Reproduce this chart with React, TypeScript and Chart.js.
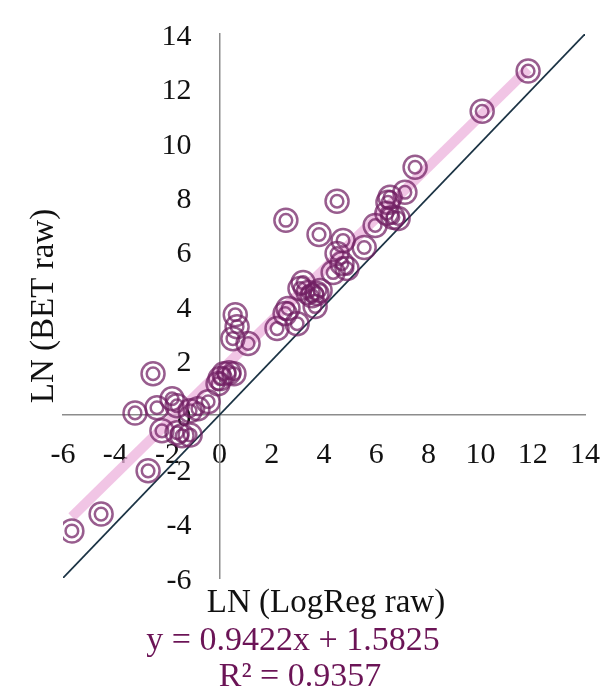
import React, { useEffect, useRef } from 'react';
import { Chart, registerables } from 'chart.js';

Chart.register(...registerables);

// LN (LogReg raw) values
const logRegX = [
  -5.66, -4.54, -2.74, -2.55, -3.24, -2.4, -1.82, -1.63, -2.21, -1.63,
  -1.44, -1.13, -1.13, -0.83, -0.44, -0.06, 0.17, 0.36, 0.55, 0.02,
  0.6, 0.67, 0.51, 1.09, 2.2, 2.62, 2.51, 2.97, 3.2, 3.08,
  3.54, 3.73, 3.66, 3.85, 3.39, 4.35, 4.88, 4.69, 4.5, 4.73,
  3.81, 2.54, 4.5, 5.54, 5.96, 6.41, 6.64, 6.45, 6.53, 6.84,
  7.1, 7.49, 10.06, 11.82,
];
// LN (BET raw) values
const betY = [
  -4.27, -3.65, -2.06, 1.51, 0.07, 0.26, 0.59, 0.33, -0.59, -0.66,
  -0.77, -0.74, 0.15, 0.22, 0.48, 1.14, 1.51, 1.55, 1.51, 1.33,
  3.68, 3.24, 2.8, 2.62, 3.17, 3.91, 3.72, 3.35, 4.86, 4.64,
  4.38, 4.46, 3.98, 4.57, 4.5, 5.23, 5.38, 5.56, 5.93, 6.41,
  6.63, 7.15, 7.85, 6.15, 6.96, 7.41, 7.26, 7.81, 8.0, 7.22,
  8.18, 9.1, 11.16, 12.64,
];

const axisMin = -6;
const axisMax = 14;
const tickStep = 2;
const identityEnds = [-6, 14];
const trendSlope = 0.9422;
const trendIntercept = 1.5825;
const rSquared = 0.9357;
const xTitle = 'LN (LogReg raw)';
const yTitle = 'LN (BET raw)';
const eqText = `y = ${trendSlope}x + ${trendIntercept}`;
const r2Text = `R² = ${rSquared}`;

const SERIF = '"Liberation Serif", "Times New Roman", serif';
const ringColor = 'rgba(112, 30, 98, 0.72)';

// shift the library-drawn tick labels away from the centred axes
const labelShiftPlugin = {
  id: 'labelShift',
  afterLayout(chart: any) {
    const shifts: Record<string, [number, number]> = { x: [0, 22], y: [-28, 0] };
    Object.keys(shifts).forEach((id) => {
      const scale = chart.scales[id];
      if (!scale || scale.__shifted) return;
      const orig = scale.drawLabels.bind(scale);
      scale.drawLabels = (area: any) => {
        const ctx = chart.ctx;
        ctx.save();
        ctx.translate(shifts[id][0], shifts[id][1]);
        orig(area);
        ctx.restore();
      };
      scale.__shifted = true;
    });
  },
};

const textPlugin = {
  id: 'texts',
  afterDraw(chart: any) {
    const ctx = chart.ctx;
    ctx.save();
    ctx.fillStyle = '#111111';
    ctx.font = `33px ${SERIF}`;
    ctx.textAlign = 'center';
    ctx.textBaseline = 'alphabetic';
    ctx.fillText(xTitle, 326, 612);
    ctx.save();
    ctx.translate(53, 306);
    ctx.rotate(-Math.PI / 2);
    ctx.fillText(yTitle, 0, 0);
    ctx.restore();
    ctx.fillStyle = '#6b1456';
    ctx.font = `34px ${SERIF}`;
    ctx.fillText(eqText, 293, 650);
    ctx.fillText(r2Text, 300, 686);
    ctx.restore();
  },
};

export default function App() {
  const ref = useRef<HTMLCanvasElement | null>(null);
  useEffect(() => {
    if (!ref.current) return;
    const points = logRegX.map((x, i) => ({ x, y: betY[i] }));
    const xs = logRegX.slice().sort((a, b) => a - b);
    const tMin = xs[0];
    const tMax = xs[xs.length - 1];
    const trend = [
      { x: tMin, y: trendSlope * tMin + trendIntercept },
      { x: tMax, y: trendSlope * tMax + trendIntercept },
    ];
    const identity = identityEnds.map((v) => ({ x: v, y: v }));
    const tickFont = { family: SERIF, size: 30 };
    const chart = new Chart(ref.current, {
      type: 'scatter',
      data: {
        datasets: [
          {
            data: points,
            pointRadius: 6.3,
            pointBorderWidth: 2.5,
            pointBackgroundColor: 'rgba(0,0,0,0)',
            pointBorderColor: ringColor,
            borderColor: ringColor,
          } as any,
          {
            data: points,
            pointRadius: 11.5,
            pointBorderWidth: 2.5,
            pointBackgroundColor: 'rgba(0,0,0,0)',
            pointBorderColor: ringColor,
            borderColor: ringColor,
          } as any,
          {
            data: trend,
            showLine: true,
            pointRadius: 0,
            borderColor: 'rgba(236, 178, 220, 0.75)',
            borderWidth: 10,
            borderCapStyle: 'butt',
          } as any,
          {
            data: identity,
            showLine: true,
            pointRadius: 0,
            borderColor: '#1b3344',
            borderWidth: 1.75,
          } as any,
        ],
      },
      options: {
        animation: false,
        responsive: false,
        devicePixelRatio: 1,
        layout: { padding: { left: 63, right: 15, top: 34, bottom: 110 } },
        plugins: {
          legend: { display: false },
          tooltip: { enabled: false },
          title: { display: false },
        },
        scales: {
          x: {
            type: 'linear',
            min: axisMin,
            max: axisMax,
            position: { y: 0 } as any,
            grid: { display: false, drawTicks: false },
            border: { display: true, color: '#8c8c8c', width: 1.5 },
            ticks: {
              stepSize: tickStep,
              autoSkip: false,
              maxRotation: 0,
              padding: 0,
              color: '#111111',
              font: tickFont,
            },
          },
          y: {
            type: 'linear',
            min: axisMin,
            max: axisMax,
            position: { x: 0 } as any,
            grid: { display: false, drawTicks: false },
            border: { display: true, color: '#8c8c8c', width: 1.5 },
            ticks: {
              stepSize: tickStep,
              autoSkip: false,
              padding: 0,
              labelOffset: 3,
              color: '#111111',
              font: tickFont,
            },
          },
        },
      },
      plugins: [labelShiftPlugin, textPlugin],
    });
    return () => chart.destroy();
  }, []);
  return (
    <div style={{ position: 'absolute', left: 0, top: 0, width: 600, height: 688 }}>
      <canvas ref={ref} width={600} height={688} style={{ width: 600, height: 688, display: 'block' }} />
    </div>
  );
}
